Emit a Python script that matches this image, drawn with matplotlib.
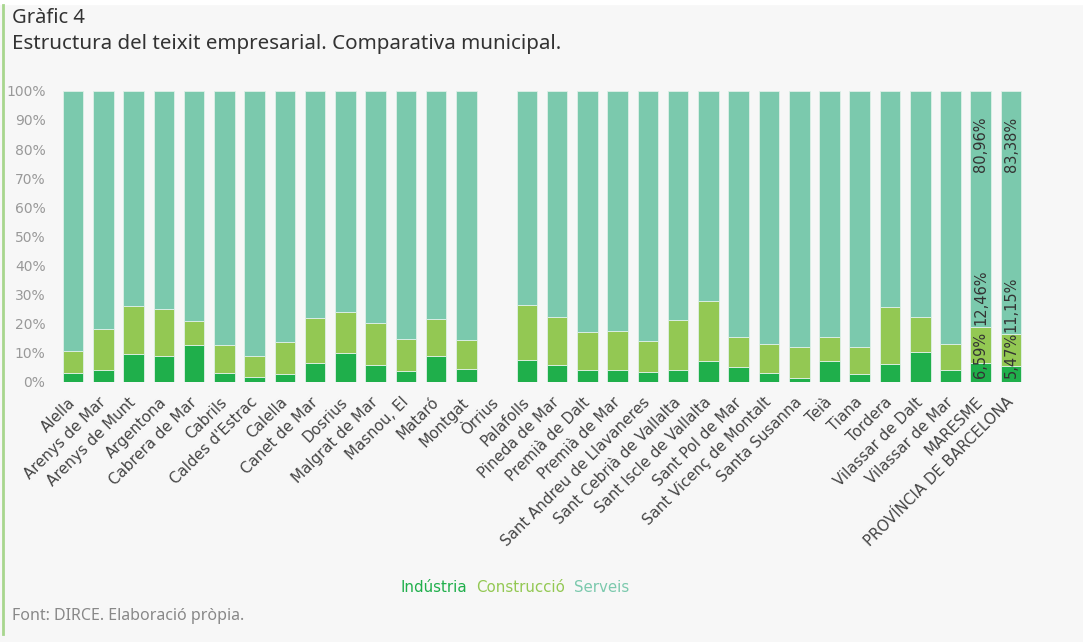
import matplotlib.pyplot as plt
from matplotlib.lines import Line2D
import numpy as np

municipis = ["Alella", "Arenys de Mar", "Arenys de Munt", "Argentona", "Cabrera de Mar",
             "Cabrils", "Caldes d'Estrac", "Calella", "Canet de Mar", "Dosrius",
             "Malgrat de Mar", "Masnou, El", "Mataró", "Montgat", "Òrrius", "Palafolls",
             "Pineda de Mar", "Premià de Dalt", "Premià de Mar", "Sant Andreu de Llavaneres",
             "Sant Cebrià de Vallalta", "Sant Iscle de Vallalta", "Sant Pol de Mar",
             "Sant Vicenç de Montalt", "Santa Susanna", "Teià", "Tiana", "Tordera",
             "Vilassar de Dalt", "Vilassar de Mar", "MARESME", "PROVÍNCIA DE BARCELONA"]

industria = [3.2, 4.1, 9.5, 9.0, 12.7, 3.2, 1.8, 2.6, 6.4, 10.1,
             5.8, 3.9, 9.0, 4.6, 0.0, 7.7, 5.9, 4.0, 4.0, 3.5,
             4.0, 7.3, 5.1, 3.2, 1.5, 7.3, 2.8, 6.3, 10.4, 4.0,
             6.59, 5.47]
construccio = [7.3, 14.0, 16.7, 16.2, 8.2, 9.4, 7.1, 11.2, 15.5, 13.9,
               14.6, 10.9, 12.7, 9.9, 0.0, 18.7, 16.5, 13.3, 13.5, 10.6,
               17.2, 20.6, 10.4, 10.0, 10.6, 8.1, 9.3, 19.3, 11.9, 9.1,
               12.46, 11.15]
serveis = [89.5, 81.9, 73.8, 74.8, 79.1, 87.4, 91.1, 86.2, 78.1, 76.0,
           79.6, 85.2, 78.3, 85.5, 0.0, 73.6, 77.6, 82.7, 82.5, 85.9,
           78.8, 72.1, 84.5, 86.8, 87.9, 84.6, 87.9, 74.4, 77.7, 86.9,
           80.96, 83.38]

c_ind = "#1faf4b"
c_con = "#93c853"
c_ser = "#7bc9ad"
bg = "#f7f7f7"

fig = plt.figure(figsize=(10.83, 6.42), dpi=100, facecolor=bg)
ax = fig.add_axes([0.0535, 0.405, 0.894, 0.4535])
ax.set_facecolor(bg)

x = np.arange(len(municipis))
ind = np.array(industria)
con = np.array(construccio)
ser = np.array(serveis)
w = 0.68
ek = dict(edgecolor="#dff0e8", linewidth=0.6)
ax.bar(x, ind, w, color=c_ind, **ek)
ax.bar(x, con, w, bottom=ind, color=c_con, **ek)
ax.bar(x, ser, w, bottom=ind + con, color=c_ser, **ek)

# etiquetes només per Maresme i província
for i in (30, 31):
    lab = lambda v: f"{v:.2f}%".replace(".", ",")
    ax.text(x[i], 1.2, lab(ind[i]), rotation=90, ha="center", va="bottom",
            fontsize=10.5, color="#333333")
    ax.text(x[i], ind[i] + con[i] + 0.4, lab(con[i]), rotation=90, ha="center",
            va="bottom", fontsize=10.5, color="#333333")
    ax.text(x[i], 91.2, lab(ser[i]), rotation=90, ha="center", va="top",
            fontsize=10.5, color="#333333")

ax.set_xlim(-0.5, len(municipis) - 0.5)
ax.set_ylim(0, 100)
ax.set_yticks(range(0, 101, 10))
ax.set_yticklabels([f"{t}%" for t in range(0, 101, 10)])
ax.tick_params(axis="y", length=0, labelsize=10, labelcolor="#999999", pad=9)
ax.set_xticks(x)
ax.set_xticklabels(municipis, rotation=45, ha="right", va="center",
                   rotation_mode="anchor")
ax.tick_params(axis="x", length=0, labelsize=10.8, labelcolor="#444444", pad=13)
for s in ax.spines.values():
    s.set_visible(False)

handles = [Line2D([], [], linestyle="none") for _ in range(3)]
leg = fig.legend(handles, ["Indústria", "Construcció", "Serveis"], loc="center",
                 bbox_to_anchor=(515 / 1083, 1 - 588 / 642), ncol=3, frameon=False,
                 handlelength=0, handletextpad=0, columnspacing=0.6, fontsize=10.8)
for t, c in zip(leg.get_texts(), [c_ind, c_con, c_ser]):
    t.set_color(c)

fig.text(12 / 1083, 1 - 18 / 642, "Gràfic 4", fontsize=14.5, color="#333333",
         va="center", family="Noto Sans")
fig.text(12 / 1083, 1 - 44 / 642, "Estructura del teixit empresarial. Comparativa municipal.",
         fontsize=14.8, color="#333333", va="center", family="Noto Sans")
fig.text(12 / 1083, 1 - 616 / 642, "Font: DIRCE. Elaboració pròpia.", fontsize=11.5,
         color="#888888", va="center", family="Noto Sans")

# barra verda a l'esquerra i franja blanca a dalt
fig.add_artist(Line2D([3 / 1083, 3 / 1083], [1 - 5 / 642, 1 - 634 / 642],
                      color="#a8d68e", linewidth=2, transform=fig.transFigure))
fig.patches.append(plt.Rectangle((0, 1 - 4 / 642), 1, 4 / 642, color="white",
                                 transform=fig.transFigure, zorder=0))

fig.savefig("out.png", dpi=100, facecolor=bg)
